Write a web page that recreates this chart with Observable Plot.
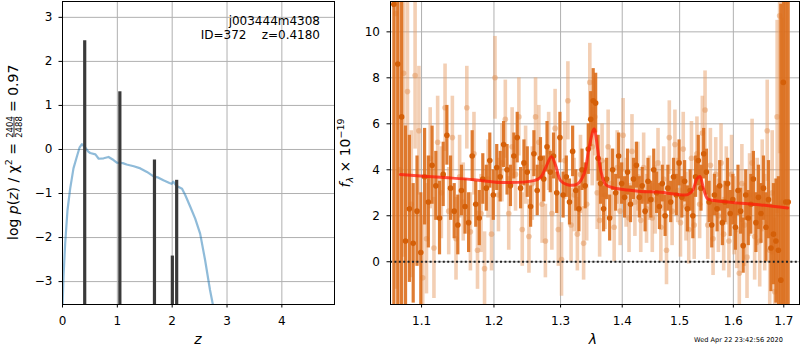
<!DOCTYPE html>
<html><head><meta charset="utf-8">
<script src="https://cdn.jsdelivr.net/npm/d3@7"></script>
<script src="https://cdn.jsdelivr.net/npm/@observablehq/plot@0.6"></script>
<style>
html,body{margin:0;padding:0;background:#fff;}
#wrap{position:relative;width:800px;height:350px;font-family:"DejaVu Sans",sans-serif;}
#wrap svg{position:absolute;top:0;overflow:visible;}
</style></head><body><div id="wrap"></div>
<script>
// ---- left panel: log p(z)
const pzZ = [0.0, 0.018, 0.049, 0.091, 0.14, 0.20, 0.26, 0.31, 0.354, 0.41, 0.47, 0.505, 0.60, 0.66, 0.75, 0.84, 0.93, 0.99, 1.10, 1.17, 1.30, 1.42, 1.54, 1.66, 1.75, 1.84, 1.95, 1.99, 2.02, 2.06, 2.10, 2.18, 2.24, 2.33, 2.42, 2.51, 2.60, 2.69, 2.74, 2.78];
const pzLog = [-3.6, -2.89, -2.13, -1.38, -0.89, -0.43, -0.17, 0.04, 0.12, 0.05, -0.05, -0.08, -0.11, -0.21, -0.20, -0.17, -0.24, -0.30, -0.31, -0.34, -0.38, -0.43, -0.51, -0.61, -0.64, -0.70, -0.76, -0.78, -0.73, -0.80, -0.84, -0.89, -1.04, -1.30, -1.57, -1.91, -2.51, -3.19, -3.51, -3.9];
const spikeZ = [0.405, 1.046, 1.677, 2.003, 2.082];
const spikeTop = [2.47, 1.31, -0.24, -2.42, -0.70];
const zTicks = [0, 1, 2, 3, 4];
const pTicks = [-3, -2, -1, 0, 1, 2, 3];
const zDomain = [0, 4.96];
const pDomain = [-3.52, 3.36];

// ---- right panel: spectrum
const darkWave = [
1.064,1.069,1.074,1.079,1.084,1.089,1.094,1.099,1.104,1.109,
1.114,1.119,1.124,1.129,1.134,1.139,1.144,1.149,1.154,1.159,
1.164,1.169,1.174,1.179,1.184,1.189,1.194,1.199,1.204,1.209,
1.214,1.219,1.224,1.229,1.234,1.239,1.244,1.249,1.254,1.259,
1.264,1.269,1.274,1.279,1.284,1.289,1.294,1.299,1.304,1.309,
1.314,1.319,1.324,1.329,1.334,1.339,1.344,1.348,1.352,1.356,
1.360,1.364,1.369,1.374,1.379,1.384,1.389,1.394,1.399,1.404,
1.409,1.414,1.419,1.424,1.429,1.434,1.439,1.444,1.449,1.454,
1.459,1.464,1.469,1.474,1.479,1.484,1.489,1.494,1.499,1.504,
1.509,1.514,1.519,1.524,1.529,1.534,1.539,1.544,1.549,1.554,
1.559,1.564,1.569,1.574,1.579,1.584,1.589,1.594,1.599,1.604,
1.609,1.614,1.619,1.624,1.629,1.634,1.639,1.644,1.649,1.654,
1.659,1.664,1.669,1.674,1.679,1.684,1.689,1.694,1.699,1.704,1.709];
const darkFlux = [
11.2, 8.6, 6.3, 0.9, 2.3, 0.8, 2.2, 0.4, 3.7, 2.6,
4.2, 3.3, 1.9, 3.8, 5.5, 3.2, 2.2, 1.6, 3.1, 2.4,
1.7, 4.6, 2.5, 1.9, 3.6, 3.2, 4.4, 2.9, 4.1, 3.7,
5.1, 4.0, 3.3, 4.6, 5.4, 3.2, 4.3, 3.9, 2.4, 4.7,
3.1, 4.5, 3.6, 5.0, 3.9, 4.6, 3.0, 5.4, 2.9, 3.7,
2.6, 4.8, 3.1, 2.3, 4.0, 3.3, 4.9, 6.2, 7.0, 6.9,
4.5, 3.4, 2.3, 3.6, 1.9, 4.0, 3.0, 4.6, 3.4, 2.8,
3.9, 2.5, 3.6, 4.2, 2.8, 3.3, 2.2, 3.5, 2.7, 4.0,
3.0, 2.4, 3.4, 2.0, 3.2, 2.6, 3.7, 2.9, 4.3, 2.8,
3.5, 2.3, 3.1, 2.0, 3.7, 4.4, 3.2, 4.7, 3.9, 2.6,
1.6, 2.9, 2.3, 3.3, 1.7, 2.6, 3.4, 2.1, 2.7, 1.5,
3.1, 2.2, 0.7, 2.9, 1.9, 2.5, 3.6, 1.7, 2.8, 2.1,
3.2, 1.5, 2.7, 0.6, 1.2, 0.9, 0.5, -0.8, 7.8, 2.6, 2.6];
const darkErr = [
14, 12, 10, 5, 3.2, 2.6, 2.4, 2.6, 2.1, 2.0,
1.7, 1.5, 1.6, 1.4, 1.3, 1.4, 1.2, 1.3, 1.1, 1.2,
1.3, 1.1, 1.0, 1.2, 1.1, 1.0, 1.2, 1.1, 1.0, 1.1,
1.0, 1.1, 0.9, 1.0, 1.1, 0.9, 1.0, 1.1, 0.9, 1.0,
1.1, 0.9, 1.0, 1.1, 0.9, 1.0, 0.9, 1.1, 1.0, 0.9,
1.0, 1.1, 0.9, 1.0, 0.9, 1.0, 1.1, 1.2, 1.4, 1.3,
1.0, 0.9, 1.0, 0.9, 1.0, 0.9, 0.8, 1.0, 0.9, 0.9,
1.0, 0.8, 0.9, 1.0, 0.9, 0.8, 0.9, 1.0, 0.8, 0.9,
0.9, 1.0, 0.8, 0.9, 1.0, 0.9, 0.8, 0.9, 1.0, 0.9,
0.9, 1.0, 0.9, 1.0, 0.9, 1.1, 1.0, 1.1, 1.0, 0.9,
1.0, 0.9, 1.0, 1.1, 1.0, 0.9, 1.1, 1.0, 1.1, 1.0,
1.1, 1.0, 1.2, 1.1, 1.2, 1.3, 1.2, 1.3, 1.4, 1.3,
1.4, 1.5, 1.7, 1.9, 2.2, 2.7, 3.2, 12, 10, 12, 12];

const lightWave = [
1.0665,1.0715,1.0765,1.0815,1.0865,1.0915,1.0965,1.1015,1.1065,1.1115,
1.1165,1.1215,1.1265,1.1315,1.1365,1.1415,1.1465,1.1515,1.1565,1.1615,
1.1665,1.1715,1.1765,1.1815,1.1865,1.1915,1.1965,1.2015,1.2065,1.2115,
1.2165,1.2215,1.2265,1.2315,1.2365,1.2415,1.2465,1.2515,1.2565,1.2615,
1.2665,1.2715,1.2765,1.2815,1.2865,1.2915,1.2965,1.3015,1.3065,1.3115,
1.3165,1.3215,1.3265,1.3315,1.3365,1.3415,1.3465,1.3505,1.3545,1.3585,
1.3625,1.3665,1.3715,1.3765,1.3815,1.3865,1.3915,1.3965,1.4015,1.4065,
1.4115,1.4165,1.4215,1.4265,1.4315,1.4365,1.4415,1.4465,1.4515,1.4565,
1.4615,1.4665,1.4715,1.4765,1.4815,1.4865,1.4915,1.4965,1.5015,1.5065,
1.5115,1.5165,1.5215,1.5265,1.5315,1.5365,1.5415,1.5465,1.5515,1.5565,
1.5615,1.5665,1.5715,1.5765,1.5815,1.5865,1.5915,1.5965,1.6015,1.6065,
1.6115,1.6165,1.6215,1.6265,1.6315,1.6365,1.6415,1.6465,1.6515,1.6565,
1.6615,1.6665,1.6715,1.6765,1.6815,1.6865,1.6915,1.6965];
const lightFlux = [
10.8, 4.0, 8.2, 7.4, 2.5, 8.1, 5.7, -0.7, 1.0, 4.5,
0.6, 5.2, 3.0, 6.7, 2.2, 5.4, 1.0, 3.7, 2.6, 6.7,
1.3, 4.7, 0.5, 2.1, -0.3, 3.6, 1.2, 8.0, 2.9, 4.3,
6.2, 2.1, 5.0, 3.8, 6.3, 1.4, 4.2, 1.1, 3.4, 6.3,
5.2, 2.5, 0.9, 4.8, 2.1, 5.8, 1.4, 0.1, 4.4, 7.0,
1.6, 2.9, 1.2, 3.8, 0.8, 2.5, 7.8, 5.0, 6.3, 3.0,
1.8, 4.4, 2.9, 5.0, 3.4, 1.5, 4.1, 2.2, 5.5, 3.0,
1.9, 4.8, 2.6, 3.7, 1.8, 4.1, 2.3, 3.2, 1.9, 2.7,
4.3, 1.5, 3.6, 0.5, 5.4, 2.2, 5.1, 3.1, 1.7, 4.9,
2.4, 1.4, 4.5, 1.6, 4.7, 2.5, 5.6, 6.6, 1.6, 4.2,
1.0, 3.8, 2.0, 4.3, 1.2, 3.3, 0.9, 3.8, 2.0, 1.4,
-0.5, 3.4, 1.6, 0.2, 2.9, 4.3, 1.1, 2.6, 0.9, 3.3,
1.7, 5.7, 0.5, 3.0, -1.3, 6.3, 10.7, 2.6];
const lightErr = [
12, 10, 8, 5, 3.2, 3.2, 2.8, 2.7, 2.4, 2.2,
2.2, 2.0, 2.0, 1.9, 1.9, 1.8, 1.8, 1.8, 1.7, 1.8,
1.7, 1.8, 1.7, 1.7, 1.6, 1.7, 1.6, 1.8, 1.6, 1.7,
1.7, 1.6, 1.7, 1.6, 1.7, 1.6, 1.7, 1.6, 1.6, 1.7,
1.6, 1.7, 1.6, 1.7, 1.6, 1.7, 1.6, 1.6, 1.7, 1.7,
1.6, 1.6, 1.6, 1.7, 1.6, 1.6, 1.7, 1.7, 1.7, 1.6,
1.6, 1.6, 1.5, 1.6, 1.5, 1.5, 1.6, 1.5, 1.6, 1.5,
1.5, 1.6, 1.5, 1.5, 1.4, 1.5, 1.5, 1.4, 1.5, 1.5,
1.5, 1.5, 1.4, 1.5, 1.6, 1.5, 1.5, 1.4, 1.5, 1.6,
1.5, 1.5, 1.6, 1.5, 1.6, 1.5, 1.6, 1.7, 1.5, 1.6,
1.6, 1.6, 1.6, 1.7, 1.6, 1.7, 1.6, 1.7, 1.7, 1.7,
1.8, 1.7, 1.8, 1.8, 1.8, 1.9, 1.9, 1.9, 2.0, 2.0,
2.1, 2.2, 2.4, 2.7, 3.2, 4.2, 6.0, 8.0];

const modelWave = [1.0725, 1.1255, 1.1715, 1.2097, 1.2592, 1.2693, 1.277, 1.2857, 1.2924, 1.300, 1.3107, 1.3266, 1.3373, 1.3453, 1.3535, 1.3589, 1.3644, 1.3726, 1.3864, 1.4089, 1.4316, 1.4665, 1.4902, 1.5144, 1.5235, 1.5314, 1.5370, 1.5439, 1.5513, 1.5638, 1.6148, 1.6541, 1.7081];
const modelFlux = [3.79, 3.67, 3.57, 3.45, 3.53, 3.67, 4.10, 4.57, 4.18, 3.53, 3.35, 3.38, 3.82, 4.97, 5.77, 4.97, 3.96, 3.35, 3.21, 3.12, 3.06, 3.02, 2.95, 2.92, 3.09, 3.60, 3.71, 3.16, 2.73, 2.66, 2.54, 2.47, 2.34];

const lamTicks = [1.1, 1.2, 1.3, 1.4, 1.5, 1.6, 1.7];
const fTicks = [0, 2, 4, 6, 8, 10];
const lamDomain = [1.0597, 1.7324];
const fDomain = [-1.86, 11.32];

const pz = pzZ.map((z, i) => ({z, v: pzLog[i]}));
const spikes = spikeZ.map((z, i) => ({z, top: spikeTop[i]}));
const dark = darkWave.map((w, i) => ({w, f: darkFlux[i], e: darkErr[i]}));
const light = lightWave.map((w, i) => ({w, f: lightFlux[i], e: lightErr[i]}));
const model = modelWave.map((w, i) => ({w, f: modelFlux[i]}));

const minus = d => d < 0 ? "\u2212" + Math.abs(d) : String(d);
const style = {fontFamily: "DejaVu Sans", fontSize: "12px", background: "transparent", color: "black", overflow: "visible"};
const gridStyle = {stroke: "#b0b0b0", strokeOpacity: 1, strokeWidth: 1};

const leftPlot = Plot.plot({
  width: 340, height: 350,
  marginLeft: 62, marginRight: 6, marginTop: 1, marginBottom: 46,
  style,
  x: {domain: zDomain},
  y: {domain: pDomain},
  marks: [
    Plot.gridX(zTicks, gridStyle),
    Plot.gridY(pTicks, gridStyle),
    Plot.line(pz, {x: "z", y: "v", stroke: "#1f77b4", strokeOpacity: 0.5, strokeWidth: 2.2, clip: true}),
    Plot.ruleX(spikes, {x: "z", y1: () => pDomain[0], y2: "top", stroke: "#3a3a3a", strokeWidth: 3.2, clip: true}),
    Plot.axisX(zTicks, {tickSize: 3.5, tickPadding: 8, label: null, tickFormat: minus}),
    Plot.axisY(pTicks, {tickSize: 3.5, tickPadding: 6.5, label: null, tickFormat: minus}),
    Plot.frame({stroke: "black", strokeWidth: 1})
  ]
});

const rightPlot = Plot.plot({
  width: 460, height: 350,
  marginLeft: 50, marginRight: 1, marginTop: 1, marginBottom: 46,
  style,
  x: {type: "log", domain: lamDomain},
  y: {domain: fDomain},
  marks: [
    Plot.gridX(lamTicks, gridStyle),
    Plot.gridY(fTicks, gridStyle),
    Plot.ruleX(light, {x: "w", y1: d => d.f - d.e, y2: d => d.f + d.e, stroke: "#e8a06a", strokeOpacity: 0.5, strokeWidth: 3.6, clip: true}),
    Plot.dot(light, {x: "w", y: "f", r: 2.8, fill: "#e39a62", fillOpacity: 0.55, clip: true}),
    Plot.ruleX(dark, {x: "w", y1: d => d.f - d.e, y2: d => d.f + d.e, stroke: "#dc6e1c", strokeOpacity: 0.9, strokeWidth: 3.2, clip: true}),
    Plot.dot(dark, {x: "w", y: "f", r: 2.8, fill: "#d45f08", clip: true}),
    Plot.line(model, {x: "w", y: "f", stroke: "#ff1a0a", strokeOpacity: 0.75, strokeWidth: 3, curve: "catmull-rom", clip: true}),
    Plot.ruleY([0], {stroke: "#222", strokeDasharray: "2,2.4", strokeWidth: 2}),
    Plot.axisX(lamTicks, {tickSize: 3.5, tickPadding: 8, label: null, tickFormat: d => d.toFixed(1)}),
    Plot.axisY(fTicks, {tickSize: 3.5, tickPadding: 7, label: null, tickFormat: minus}),
    Plot.frame({stroke: "black", strokeWidth: 1})
  ]
});

const wrap = document.getElementById("wrap");
leftPlot.style.left = "0px";
rightPlot.style.left = "340px";
wrap.appendChild(leftPlot);
wrap.appendChild(rightPlot);

// ---- annotations (left)
const L = d3.select(leftPlot);
const ann = L.append("g").attr("font-family", "DejaVu Sans").attr("fill", "black").attr("font-size", 12);
ann.append("text").attr("x", 320).attr("y", 25).attr("text-anchor", "end").text("j003444m4308");
ann.append("text").attr("x", 320).attr("y", 39).attr("text-anchor", "end").style("white-space", "pre").text("ID=372    z=0.4180");
ann.append("text").attr("x", 198).attr("y", 344).attr("text-anchor", "middle").attr("font-style", "italic").attr("font-size", 14).text("z");

const yl = L.append("g").attr("transform", "translate(18,157) rotate(-90)")
  .attr("font-family", "DejaVu Sans").attr("font-size", 14).attr("fill", "black");
const tA = yl.append("text").attr("x", 14).attr("y", 0).attr("text-anchor", "end");
tA.append("tspan").text("log ");
tA.append("tspan").attr("font-style", "italic").text("p");
tA.append("tspan").text("(");
tA.append("tspan").attr("font-style", "italic").text("z");
tA.append("tspan").text(") / \u03c7");
tA.append("tspan").attr("font-size", 9.5).attr("dy", -6).text("2");
tA.append("tspan").attr("dy", 6).text(" =");
yl.append("text").attr("x", 30).attr("y", -5.5).attr("text-anchor", "middle").attr("font-size", 8.5).text("2404");
yl.append("line").attr("x1", 20).attr("x2", 40).attr("y1", -4).attr("y2", -4).attr("stroke", "black").attr("stroke-width", 0.8);
yl.append("text").attr("x", 30).attr("y", 3.5).attr("text-anchor", "middle").attr("font-size", 8.5).text("2488");
yl.append("text").attr("x", 45).attr("y", 0).attr("text-anchor", "start").text("= 0.97");

// ---- annotations (right)
const R = d3.select(rightPlot);
const annR = R.append("g").attr("font-family", "DejaVu Sans").attr("fill", "black");
annR.append("text").attr("x", 253).attr("y", 344).attr("text-anchor", "middle").attr("font-size", 14).attr("font-style", "italic").text("\u03bb");
annR.append("text").attr("x", 354).attr("y", 342).attr("text-anchor", "start").attr("font-size", 6.6).text("Wed Apr 22 23:42:56 2020");
const yr = annR.append("g").attr("transform", "translate(10,153) rotate(-90)").attr("font-size", 14);
const tR = yr.append("text").attr("x", 0).attr("y", 0).attr("text-anchor", "middle");
tR.append("tspan").attr("font-style", "italic").text("f");
tR.append("tspan").attr("font-size", 9.5).attr("dy", 3).attr("font-style", "italic").text("\u03bb");
tR.append("tspan").attr("dy", -3).text(" \u00d7 10");
tR.append("tspan").attr("font-size", 9.5).attr("dy", -6).text("\u221219");
</script>
</body></html>
